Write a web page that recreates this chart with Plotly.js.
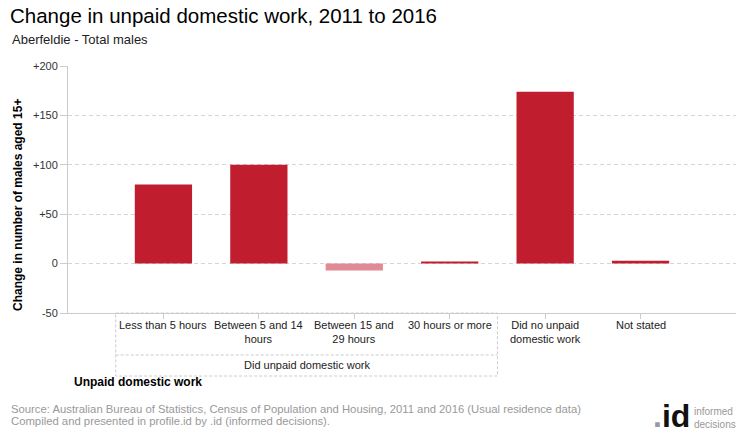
<!DOCTYPE html>
<html>
<head>
<meta charset="utf-8">
<script src="https://cdn.plot.ly/plotly-3.0.1.min.js"></script>
<style>html,body{margin:0;padding:0;background:#fff;}#chart{width:740px;height:440px;}</style>
</head>
<body>
<div id="chart"></div>
<script>
var categories = ["Less than 5 hours", "Between 5 and 14 hours", "Between 15 and 29 hours", "30 hours or more", "Did no unpaid domestic work", "Not stated"];
var categoryLabels = ["Less than 5 hours", "Between 5 and 14<br>hours", "Between 15 and<br>29 hours", "30 hours or more", "Did no unpaid<br>domestic work", "Not stated"];
var changeValues = [80, 100, -7, 2, 174, 3];
var yTickValues = [-50, 0, 50, 100, 150, 200];
var yTickLabels = ["-50", "0", "+50", "+100", "+150", "+200"];
var groupLabel = "Did unpaid domestic work";
var sourceLine1 = "Source: Australian Bureau of Statistics, Census of Population and Housing, 2011 and 2016 (Usual residence data)";
var sourceLine2 = "Compiled and presented in profile.id by .id (informed decisions).";

var FONT = "'Liberation Sans', Arial, sans-serif";

var barColors = changeValues.map(function(v){ return v < 0 ? "#E08A96" : "#C01E2E"; });

var trace = {
  type: "bar",
  x: categories,
  y: changeValues,
  width: 0.6,
  marker: {color: barColors, line: {width: 0}},
  hoverinfo: "x+y"
};

function px(x){ return (x - 68) / 668; }
function py(y){ return (313 - y) / 247; }

var annotations = categories.map(function(c, i){
  return {x: c, xref: "x", y: -0.018, yref: "paper", yanchor: "top", xanchor: "center",
          text: categoryLabels[i], showarrow: false, align: "center",
          font: {family: FONT, size: 11, color: "#222"}};
});
annotations.push({x: 1.5, xref: "x", y: -0.212, yref: "paper", yanchor: "middle", xanchor: "center",
  text: groupLabel, showarrow: false, font: {family: FONT, size: 11, color: "#222"}});
annotations.push({x: 0.006, xref: "paper", y: -0.28, yref: "paper", xanchor: "left", yanchor: "middle",
  text: "<b>Unpaid domestic work</b>", showarrow: false, font: {family: FONT, size: 12, color: "#000"}});
annotations.push({x: px(18), xref: "paper", y: py(205), yref: "paper", xanchor: "center", yanchor: "middle",
  textangle: -90, text: "<b>Change in number of males aged 15+</b>", showarrow: false,
  font: {family: FONT, size: 12, color: "#000"}});
annotations.push({xref: "paper", yref: "paper", x: px(10), y: py(40), xanchor: "left", yanchor: "middle",
  text: "Aberfeldie - Total males", showarrow: false, font: {family: FONT, size: 13, color: "#222"}});
annotations.push({xref: "paper", yref: "paper", x: px(9), y: py(409), xanchor: "left", yanchor: "middle",
  text: sourceLine1, showarrow: false, font: {family: FONT, size: 11.3, color: "#999"}});
annotations.push({xref: "paper", yref: "paper", x: px(9), y: py(421), xanchor: "left", yanchor: "middle",
  text: sourceLine2, showarrow: false, font: {family: FONT, size: 11.3, color: "#999"}});
annotations.push({xref: "paper", yref: "paper", x: px(692), y: py(416), xanchor: "right", yanchor: "middle",
  text: "<b><span style='color:#999'>.</span>id</b>", showarrow: false,
  font: {family: FONT, size: 32, color: "#111"}});
annotations.push({xref: "paper", yref: "paper", x: px(692), y: py(418), xanchor: "left", yanchor: "middle",
  text: "informed<br>decisions", align: "left", showarrow: false,
  font: {family: FONT, size: 10, color: "#999"}});

var layout = {
  width: 740, height: 440,
  margin: {l: 68, r: 4, t: 66, b: 127},
  paper_bgcolor: "#fff", plot_bgcolor: "#fff",
  showlegend: false,
  title: {text: "Change in unpaid domestic work, 2011 to 2016", xref: "container", x: 10/740, xanchor: "left",
          yref: "container", y: 1 - 16/440, yanchor: "middle",
          font: {family: FONT, size: 20.5, color: "#000"}},
  xaxis: {type: "category", range: [-1, 6], showgrid: false, zeroline: false,
          showline: true, linecolor: "#ccc", linewidth: 1,
          ticks: "outside", ticklen: 5, tickcolor: "#ccc", showticklabels: false,
          fixedrange: true},
  yaxis: {range: [-50, 200], tickvals: yTickValues, ticktext: yTickLabels,
          showgrid: true, gridcolor: "#d6d6d6", griddash: "4px,3px", gridwidth: 1,
          zeroline: false, showline: true, linecolor: "#ccc", linewidth: 1,
          ticks: "outside", ticklen: 7, tickcolor: "#ccc",
          tickfont: {family: FONT, size: 11, color: "#333"}, fixedrange: true},
  shapes: [
    {type: "rect", xref: "x", yref: "paper", x0: -0.5, x1: 3.5, y0: 0, y1: py(376),
     line: {color: "#ccc", width: 1, dash: "3px,2px"}, fillcolor: "rgba(0,0,0,0)"},
    {type: "line", xref: "x", yref: "paper", x0: -0.5, x1: 3.5, y0: py(355), y1: py(355),
     line: {color: "#ccc", width: 1, dash: "3px,2px"}}
  ],
  annotations: annotations
};

Plotly.newPlot("chart", [trace], layout, {displayModeBar: false, staticPlot: true});
</script>
</body>
</html>
